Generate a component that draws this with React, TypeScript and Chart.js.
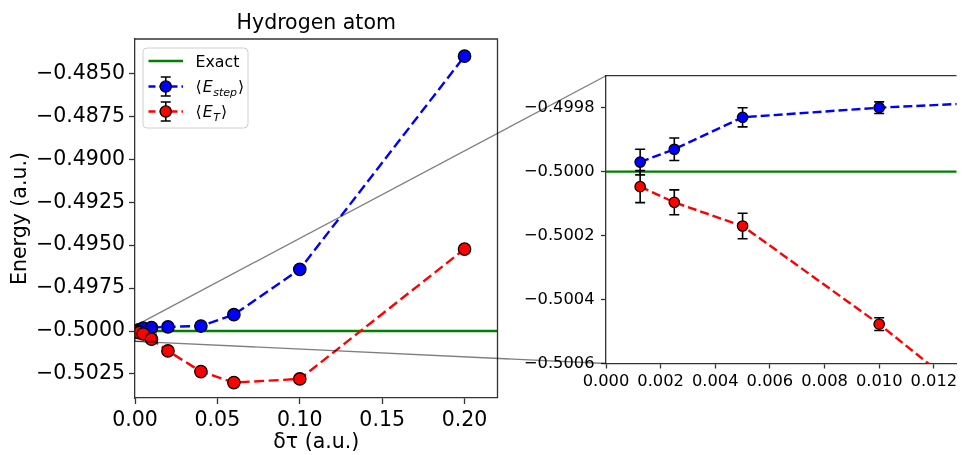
import React, { useEffect, useRef, useState } from 'react';
import { Chart, registerables } from 'chart.js';

Chart.register(...registerables);

// ---------- data ----------
const dtau = [0.00125, 0.0025, 0.005, 0.01, 0.02, 0.04, 0.06, 0.1, 0.2];
const eStep = [-0.49997, -0.49993, -0.49983, -0.4998, -0.49976, -0.49971, -0.49905, -0.49641, -0.484];
const eStepErr = [0.00004, 0.000035, 0.00003, 0.000018, 0.000015, 0.00002, 0.00002, 0.00003, 0.00004];
const eT = [-0.500047, -0.500096, -0.50017, -0.500477, -0.50116, -0.50236, -0.503, -0.50279, -0.49523];
const eTErr = [0.00005, 0.000039, 0.00004, 0.00002, 0.000015, 0.00002, 0.00002, 0.00003, 0.00004];
const exactEnergy = -0.5;
const exactSpan = [-1, 1];

const leftXTicks = [0, 0.05, 0.1, 0.15, 0.2];
const leftYTicks = [-0.5025, -0.5, -0.4975, -0.495, -0.4925, -0.49, -0.4875, -0.485];
const rightXTicks = [0, 0.002, 0.004, 0.006, 0.008, 0.01, 0.012];
const rightYTicks = [-0.5006, -0.5004, -0.5002, -0.5, -0.4998];

const leftXRange = [0, 0.22];
const leftYRange = [-0.5039, -0.483];
const zoomXRange = [0, 0.01283];
const zoomYRange = [-0.5006, -0.4997];

const titleText = 'Hydrogen atom';
const xLabel = 'δτ (a.u.)';
const yLabel = 'Energy (a.u.)';
const legendExact = 'Exact';
const legendStepSub = 'step';
const legendTSub = 'T';

// ---------- styles ----------
const FONT = 'DejaVu Sans';
const BLUE = '#0000ff';
const RED = '#ff0000';
const GREEN = '#008000';
const SPINE = '#333333';
const CONNECT = 'rgba(0,0,0,0.5)';

const LEFT_W = 510;
const RIGHT_X = 520;
const RIGHT_W = 443;
const H = 455;
const BIG = 20.5;
const SMALL = 16.3;

const fmt = (v: number, d: number) => v.toFixed(d).replace('-', '\u2212');
const pts = (xs: number[], ys: number[]) => xs.map((x, i) => ({ x, y: ys[i] }));

const errorBarPlugin = {
  id: 'errorBars',
  beforeDatasetDraw(chart: any, args: any, opts: any) {
    const ds = chart.data.datasets[args.index];
    if (!ds.errors) return;
    const ys = chart.scales.y;
    const ctx = chart.ctx;
    const a = chart.chartArea;
    const cap = opts.cap ?? 5;
    ctx.save();
    ctx.beginPath();
    ctx.rect(a.left, a.top, a.right - a.left, a.bottom - a.top);
    ctx.clip();
    ctx.strokeStyle = '#000';
    ctx.lineWidth = opts.width ?? 1.5;
    args.meta.data.forEach((pt: any, i: number) => {
      const v = ds.data[i].y;
      const e = ds.errors[i];
      const x = pt.x;
      const y1 = ys.getPixelForValue(v - e);
      const y2 = ys.getPixelForValue(v + e);
      ctx.beginPath();
      ctx.moveTo(x, y1);
      ctx.lineTo(x, y2);
      ctx.moveTo(x - cap, y1);
      ctx.lineTo(x + cap, y1);
      ctx.moveTo(x - cap, y2);
      ctx.lineTo(x + cap, y2);
      ctx.stroke();
    });
    ctx.restore();
  },
};

const framePlugin = {
  id: 'frame',
  afterDatasetsDraw(chart: any, _args: any, opts: any) {
    const ctx = chart.ctx;
    const a = chart.chartArea;
    ctx.save();
    ctx.strokeStyle = SPINE;
    ctx.lineWidth = 1.3;
    ctx.beginPath();
    ctx.moveTo(a.left, a.top);
    ctx.lineTo(a.right, a.top);
    if (opts.right) {
      ctx.lineTo(a.right, a.bottom);
    }
    ctx.stroke();
    if (opts.zoomRect) {
      const xs = chart.scales.x;
      const ys = chart.scales.y;
      const x0 = xs.getPixelForValue(zoomXRange[0]);
      const x1 = xs.getPixelForValue(zoomXRange[1]);
      const y0 = ys.getPixelForValue(zoomYRange[1]);
      const y1 = ys.getPixelForValue(zoomYRange[0]);
      ctx.strokeStyle = CONNECT;
      ctx.lineWidth = 1.3;
      ctx.strokeRect(x0, y0, x1 - x0, y1 - y0);
    }
    ctx.restore();
  },
};

const legendPlugin = {
  id: 'customLegend',
  afterDraw(chart: any, _args: any, opts: any) {
    if (!opts.show) return;
    const ctx = chart.ctx;
    const a = chart.chartArea;
    const bx = a.left + 8;
    const by = a.top + 9;
    const bw = 105;
    const bh = 80;
    const r = 4;
    ctx.save();
    ctx.beginPath();
    ctx.moveTo(bx + r, by);
    ctx.lineTo(bx + bw - r, by);
    ctx.arcTo(bx + bw, by, bx + bw, by + r, r);
    ctx.lineTo(bx + bw, by + bh - r);
    ctx.arcTo(bx + bw, by + bh, bx + bw - r, by + bh, r);
    ctx.lineTo(bx + r, by + bh);
    ctx.arcTo(bx, by + bh, bx, by + bh - r, r);
    ctx.lineTo(bx, by + r);
    ctx.arcTo(bx, by, bx + r, by, r);
    ctx.closePath();
    ctx.fillStyle = 'rgba(255,255,255,0.8)';
    ctx.fill();
    ctx.strokeStyle = '#d0d0d0';
    ctx.lineWidth = 1;
    ctx.stroke();

    const hx0 = a.left + 13.5;
    const hx1 = a.left + 48;
    const hxm = (hx0 + hx1) / 2;
    const tx = a.left + 60.5;
    const rows = [a.top + 22, a.top + 47.5, a.top + 72.5];
    const fs = 15.8;

    ctx.strokeStyle = GREEN;
    ctx.lineWidth = 2.3;
    ctx.beginPath();
    ctx.moveTo(hx0, rows[0]);
    ctx.lineTo(hx1, rows[0]);
    ctx.stroke();
    ctx.fillStyle = '#000';
    ctx.textBaseline = 'alphabetic';
    ctx.font = `${fs}px "${FONT}"`;
    ctx.fillText(legendExact, tx, rows[0] + 5.8);

    const errEntry = (y: number, color: string, sub: string) => {
      ctx.strokeStyle = color;
      ctx.lineWidth = 2.3;
      ctx.setLineDash([7, 4]);
      ctx.beginPath();
      ctx.moveTo(hx0, y);
      ctx.lineTo(hx1, y);
      ctx.stroke();
      ctx.setLineDash([]);
      ctx.strokeStyle = '#000';
      ctx.lineWidth = 1.6;
      ctx.beginPath();
      ctx.moveTo(hxm, y - 9.5);
      ctx.lineTo(hxm, y + 9.5);
      ctx.moveTo(hxm - 5, y - 9.5);
      ctx.lineTo(hxm + 5, y - 9.5);
      ctx.moveTo(hxm - 5, y + 9.5);
      ctx.lineTo(hxm + 5, y + 9.5);
      ctx.stroke();
      ctx.beginPath();
      ctx.arc(hxm, y, 5.6, 0, Math.PI * 2);
      ctx.fillStyle = color;
      ctx.fill();
      ctx.lineWidth = 1.3;
      ctx.stroke();

      let x = tx;
      const base = y + 5.8;
      ctx.fillStyle = '#000';
      ctx.font = `${fs}px "${FONT}"`;
      ctx.fillText('\u27E8', x, base);
      x += ctx.measureText('\u27E8').width + 1;
      ctx.font = `italic ${fs}px "${FONT}"`;
      ctx.fillText('E', x, base);
      x += ctx.measureText('E').width + 0.5;
      ctx.font = `italic ${fs * 0.7}px "${FONT}"`;
      ctx.fillText(sub, x, base + 3.5);
      x += ctx.measureText(sub).width + 1;
      ctx.font = `${fs}px "${FONT}"`;
      ctx.fillText('\u27E9', x, base);
    };
    errEntry(rows[1], BLUE, legendStepSub);
    errEntry(rows[2], RED, legendTSub);
    ctx.restore();
  },
};

function makeConfig(side: 'left' | 'right'): any {
  const isLeft = side === 'left';
  const tickFs = isLeft ? BIG : SMALL;
  const radius = isLeft ? 6.2 : 5.2;
  const xTicks = isLeft ? leftXTicks : rightXTicks;
  const yTicks = isLeft ? leftYTicks : rightYTicks;
  const xr = isLeft ? leftXRange : zoomXRange;
  const yr = isLeft ? leftYRange : zoomYRange;
  const tickLen = isLeft ? 6 : 5;
  const dash = isLeft ? [10, 4.5] : [9, 4];

  const series = (ys: number[], errs: number[], color: string, label: string) => ({
    label,
    data: pts(dtau, ys),
    errors: errs,
    borderColor: color,
    borderWidth: 2.4,
    borderDash: dash,
    backgroundColor: color,
    pointBackgroundColor: color,
    pointBorderColor: '#000',
    pointBorderWidth: 1.3,
    pointRadius: radius,
    showLine: true,
    fill: false,
    clip: 0,
  });

  return {
    type: 'scatter',
    data: {
      datasets: [
        series(eT, eTErr, RED, 'E_T'),
        series(eStep, eStepErr, BLUE, 'E_step'),
        {
          label: legendExact,
          data: pts(exactSpan, exactSpan.map(() => exactEnergy)),
          borderColor: GREEN,
          borderWidth: 2.4,
          pointRadius: 0,
          showLine: true,
          fill: false,
          clip: 0,
        },
      ],
    },
    options: {
      responsive: false,
      animation: false,
      devicePixelRatio: 1,
      layout: { padding: isLeft ? { top: 0, left: 0, right: LEFT_W - 497.5, bottom: 0 } : { top: 75.7, left: 0, right: 0, bottom: 0 } },
      plugins: {
        legend: { display: false },
        tooltip: { enabled: false },
        title: isLeft
          ? {
              display: true,
              text: titleText,
              fullSize: false,
              color: '#000',
              font: { family: FONT, size: BIG, weight: 'normal', lineHeight: 1.2 },
              padding: { top: 11.2, bottom: 3.2 },
            }
          : { display: false },
        errorBars: { cap: 5, width: 1.6 },
        frame: { right: isLeft, zoomRect: isLeft },
        customLegend: { show: isLeft },
      },
      scales: {
        x: {
          type: 'linear',
          min: xr[0],
          max: xr[1],
          afterBuildTicks: (s: any) => {
            s.ticks = xTicks.map((v) => ({ value: v }));
          },
          afterFit: (s: any) => {
            s.height = isLeft ? H - 398 : H - 363.5;
            s.paddingLeft = 0;
            s.paddingRight = 0;
          },
          ticks: {
            callback: (v: number) => fmt(v, isLeft ? 2 : 3),
            font: { family: FONT, size: tickFs },
            color: '#000',
            padding: isLeft ? 4.5 : 3.4,
            maxRotation: 0,
            autoSkip: false,
          },
          grid: { drawOnChartArea: false, tickLength: tickLen, tickColor: SPINE, tickWidth: 1.3 },
          border: { display: true, color: SPINE, width: 1.3 },
          title: isLeft
            ? {
                display: true,
                text: xLabel,
                color: '#000',
                font: { family: FONT, size: BIG, lineHeight: 1.2 },
                padding: { top: 0, bottom: 0 },
              }
            : { display: false },
        },
        y: {
          type: 'linear',
          min: yr[0],
          max: yr[1],
          afterBuildTicks: (s: any) => {
            s.ticks = yTicks.map((v) => ({ value: v }));
          },
          afterFit: (s: any) => {
            s.width = isLeft ? 135 : 606 - RIGHT_X;
            s.paddingTop = 0;
            s.paddingBottom = 0;
          },
          ticks: {
            callback: (v: number) => fmt(v, 4),
            font: { family: FONT, size: tickFs },
            color: '#000',
            padding: isLeft ? 4 : 6.5,
            autoSkip: false,
          },
          grid: { drawOnChartArea: false, tickLength: tickLen, tickColor: SPINE, tickWidth: 1.3 },
          border: { display: true, color: SPINE, width: 1.3 },
          title: isLeft
            ? {
                display: true,
                text: yLabel,
                color: '#000',
                font: { family: FONT, size: BIG, lineHeight: 1.2 },
                padding: { top: 8.7, bottom: 0 },
              }
            : { display: false },
        },
      },
    },
    plugins: [errorBarPlugin, framePlugin, legendPlugin],
  };
}

type Seg = { x1: number; y1: number; x2: number; y2: number };

export default function App() {
  const leftRef = useRef<HTMLCanvasElement | null>(null);
  const rightRef = useRef<HTMLCanvasElement | null>(null);
  const [segs, setSegs] = useState<Seg[]>([]);

  useEffect(() => {
    if (!leftRef.current || !rightRef.current) return;
    const left = new Chart(leftRef.current, makeConfig('left'));
    const right = new Chart(rightRef.current, makeConfig('right'));
    const lx = left.scales.x as any;
    const ly = left.scales.y as any;
    const x0 = lx.getPixelForValue(zoomXRange[0]);
    const yTop = ly.getPixelForValue(zoomYRange[1]);
    const yBot = ly.getPixelForValue(zoomYRange[0]);
    const ra = right.chartArea;
    setSegs([
      { x1: x0, y1: yTop, x2: ra.left + RIGHT_X, y2: ra.top },
      { x1: x0, y1: yBot, x2: ra.left + RIGHT_X, y2: ra.bottom },
    ]);
    return () => {
      left.destroy();
      right.destroy();
    };
  }, []);

  return (
    <div style={{ position: 'absolute', left: 0, top: 0, width: 963, height: H, background: '#fff', overflow: 'hidden' }}>
      <canvas ref={leftRef} width={LEFT_W} height={H} style={{ position: 'absolute', left: 0, top: 0, width: LEFT_W, height: H }} />
      <canvas ref={rightRef} width={RIGHT_W} height={H} style={{ position: 'absolute', left: RIGHT_X, top: 0, width: RIGHT_W, height: H }} />
      <svg width={963} height={H} style={{ position: 'absolute', left: 0, top: 0, pointerEvents: 'none' }}>
        {segs.map((s, i) => (
          <line key={i} x1={s.x1} y1={s.y1} x2={s.x2} y2={s.y2} stroke={CONNECT} strokeWidth={1.3} />
        ))}
      </svg>
    </div>
  );
}
